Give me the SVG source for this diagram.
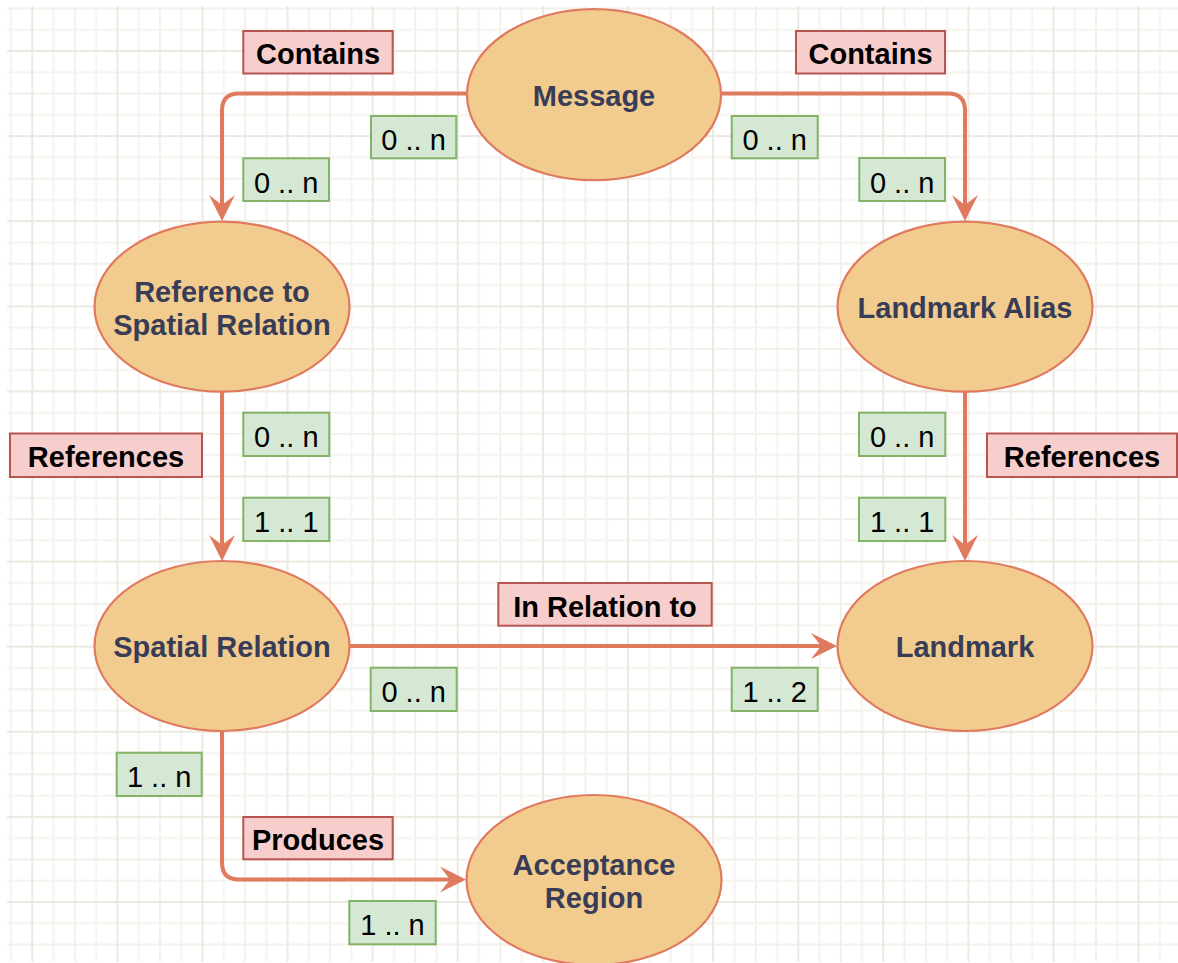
<svg xmlns="http://www.w3.org/2000/svg" width="1178" height="963" viewBox="0 0 1178 963">
  <defs>
    <pattern id="grid" patternUnits="userSpaceOnUse" x="31.3" y="50" width="85.1" height="85.1">
      <rect x="21.3" y="0" width="2" height="85.1" fill="#f4f3ed"/>
      <rect x="42.6" y="0" width="2" height="85.1" fill="#f2f0e9"/>
      <rect x="63.8" y="0" width="2" height="85.1" fill="#f4f3ed"/>
      <rect x="0" y="21.3" width="85.1" height="2" fill="#f4f3ed"/>
      <rect x="0" y="42.6" width="85.1" height="2" fill="#f2f0e9"/>
      <rect x="0" y="63.8" width="85.1" height="2" fill="#f4f3ed"/>
      <rect x="0" y="0" width="2" height="85.1" fill="#ebe9e0"/>
      <rect x="0" y="0" width="85.1" height="2" fill="#ebe9e0"/>
    </pattern>
    <marker id="arrow" markerUnits="userSpaceOnUse" viewBox="0 0 26 26" refX="14" refY="13" markerWidth="26" markerHeight="26" orient="auto">
      <path d="M26,13 L0,0 L10,13 L0,26 Z" fill="#E07A5F"/>
    </marker>
  </defs>
  <style>
    .node ellipse { fill: #F2CC8F; stroke: #E07A5F; stroke-width: 2.2; }
    .node text { font-family: "Liberation Sans", Arial, Helvetica, sans-serif; font-weight: bold; font-size: 29px; fill: #393C56; text-anchor: middle; }
    .edge { fill: none; stroke: #E07A5F; stroke-width: 4; marker-end: url(#arrow); }
    .rel rect { fill: #f8cecc; stroke: #b85450; stroke-width: 2; }
    .rel text { font-family: "Liberation Sans", Arial, Helvetica, sans-serif; font-weight: bold; font-size: 29px; fill: #000; text-anchor: middle; }
    .card rect { fill: #d5e8d4; stroke: #82b366; stroke-width: 2; }
    .card text { font-family: "Liberation Sans", Arial, Helvetica, sans-serif; font-size: 29px; fill: #000; text-anchor: middle; }
  </style>

  <!-- background and grid -->
  <rect x="0" y="0" width="1178" height="963" fill="#ffffff"/>
  <rect x="7" y="6" width="1171" height="956" fill="url(#grid)"/>

  <!-- connectors -->
  <g id="connectors">
    <path class="edge" d="M467,93.5 H239 Q222,93.5 222,110.5 V209"/>
    <path class="edge" d="M721,93.5 H948 Q965,93.5 965,110.5 V209"/>
    <path class="edge" d="M222,392 V549"/>
    <path class="edge" d="M965,392 V549"/>
    <path class="edge" d="M350,646 H825"/>
    <path class="edge" d="M222,731 V862.5 Q222,879.5 239,879.5 H454"/>
  </g>

  <!-- nodes -->
  <g id="message" class="node">
    <ellipse cx="594" cy="94.7" rx="127" ry="85.5"/>
    <text x="594" y="106">Message</text>
  </g>
  <g id="reference-to-spatial-relation" class="node">
    <ellipse cx="222" cy="306.7" rx="127.5" ry="85"/>
    <text x="222" y="301.7">Reference to</text>
    <text x="222" y="335">Spatial Relation</text>
  </g>
  <g id="landmark-alias" class="node">
    <ellipse cx="965" cy="306.7" rx="127.5" ry="85"/>
    <text x="965" y="318">Landmark Alias</text>
  </g>
  <g id="spatial-relation" class="node">
    <ellipse cx="222" cy="646" rx="127.5" ry="85"/>
    <text x="222" y="657">Spatial Relation</text>
  </g>
  <g id="landmark" class="node">
    <ellipse cx="965" cy="646" rx="127.5" ry="85"/>
    <text x="965" y="657">Landmark</text>
  </g>
  <g id="acceptance-region" class="node">
    <ellipse cx="594" cy="880" rx="127.5" ry="85"/>
    <text x="594" y="875">Acceptance</text>
    <text x="594" y="908.3">Region</text>
  </g>

  <!-- relation labels -->
  <g id="label-contains-left" class="rel">
    <rect x="243.3" y="31" width="149.4" height="42.5"/>
    <text x="318" y="64.3">Contains</text>
  </g>
  <g id="label-contains-right" class="rel">
    <rect x="796" y="31" width="149" height="42.5"/>
    <text x="870.5" y="64.3">Contains</text>
  </g>
  <g id="label-references-left" class="rel">
    <rect x="10" y="433.5" width="192" height="43.5"/>
    <text x="106" y="467">References</text>
  </g>
  <g id="label-references-right" class="rel">
    <rect x="987" y="433.5" width="190" height="43.5"/>
    <text x="1082" y="467">References</text>
  </g>
  <g id="label-in-relation-to" class="rel">
    <rect x="498.3" y="583" width="213.4" height="42.7"/>
    <text x="605" y="616.5">In Relation to</text>
  </g>
  <g id="label-produces" class="rel">
    <rect x="243.3" y="817" width="149.4" height="42.3"/>
    <text x="318" y="850">Produces</text>
  </g>

  <!-- cardinality labels -->
  <g id="card-msg-left" class="card">
    <rect x="371" y="116" width="85.3" height="42.3"/>
    <text x="413.6" y="150">0 .. n</text>
  </g>
  <g id="card-ref-top" class="card">
    <rect x="243.3" y="158.3" width="85.7" height="42.7"/>
    <text x="286.2" y="192.5">0 .. n</text>
  </g>
  <g id="card-msg-right" class="card">
    <rect x="731.7" y="116" width="86" height="42.3"/>
    <text x="774.7" y="150">0 .. n</text>
  </g>
  <g id="card-alias-top" class="card">
    <rect x="859.3" y="158" width="85.7" height="43"/>
    <text x="902.2" y="192.5">0 .. n</text>
  </g>
  <g id="card-ref-bottom" class="card">
    <rect x="243.3" y="412.7" width="86" height="43.3"/>
    <text x="286.3" y="447">0 .. n</text>
  </g>
  <g id="card-spatial-top" class="card">
    <rect x="243.3" y="497.7" width="86" height="43.3"/>
    <text x="286.3" y="532">1 .. 1</text>
  </g>
  <g id="card-alias-bottom" class="card">
    <rect x="859" y="412.7" width="86.3" height="43.3"/>
    <text x="902.2" y="447">0 .. n</text>
  </g>
  <g id="card-landmark-top" class="card">
    <rect x="859" y="497.7" width="86.3" height="43.3"/>
    <text x="902.2" y="532">1 .. 1</text>
  </g>
  <g id="card-spatial-right" class="card">
    <rect x="370.7" y="667.7" width="86" height="43.3"/>
    <text x="413.7" y="702">0 .. n</text>
  </g>
  <g id="card-landmark-left" class="card">
    <rect x="731.7" y="667.7" width="86" height="43.3"/>
    <text x="774.7" y="702">1 .. 2</text>
  </g>
  <g id="card-spatial-bottom" class="card">
    <rect x="116.7" y="752.7" width="85" height="43.3"/>
    <text x="159.2" y="787">1 .. n</text>
  </g>
  <g id="card-acceptance-left" class="card">
    <rect x="349.3" y="901" width="86.4" height="43.3"/>
    <text x="392.5" y="935.3">1 .. n</text>
  </g>
</svg>
